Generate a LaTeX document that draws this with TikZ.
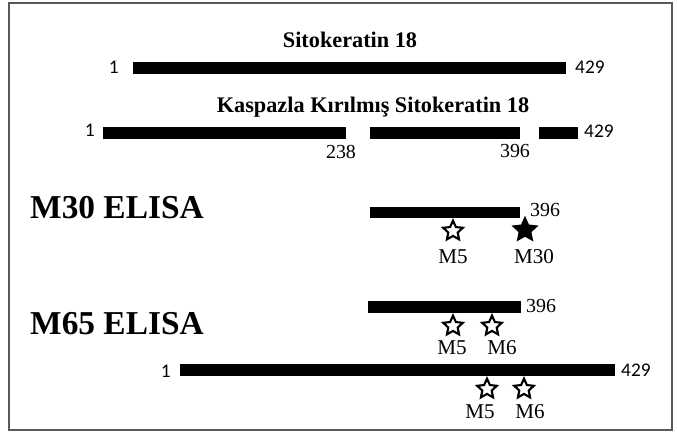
\documentclass[tikz,border=0pt]{standalone}
\usepackage{fontspec}
\setmainfont{Liberation Serif}
\newfontfamily\numfont{Carlito}
\usetikzlibrary{shapes.geometric}

\begin{document}
\begin{tikzpicture}[
    x=0.03cm, y=-0.03cm,
    bar/.style={fill=black},
    title/.style={font=\fontsize{19}{22}\selectfont\bfseries, inner sep=0pt},
    elisa/.style={font=\fontsize{28.5}{32}\selectfont\bfseries, anchor=west, inner sep=0pt},
    endnum/.style={font=\numfont\fontsize{16.5}{18}\selectfont, inner sep=0pt},
    cutnum/.style={font=\fontsize{17}{19}\selectfont, inner sep=0pt},
    mab/.style={font=\fontsize{18}{20}\selectfont, inner sep=0pt},
    openstar/.style={star, star points=5, star point ratio=2.1, draw, line width=1.8pt,
                     minimum size=0.62cm, inner sep=0pt},
    fullstar/.style={openstar, fill=black, minimum size=0.7cm}
]

    % Page and frame
    \useasboundingbox (0,0) rectangle (677,436);
    \draw[line width=1.6pt, black!65] (9,3) rectangle (672,430);

    % Full length cytokeratin
    \node[title] (ck) at (350,40) {Sitokeratin 18};
    \fill[bar] (133,62) rectangle (566,74);
    \node[endnum, anchor=east] (ckA) at (119,67) {1};
    \node[endnum, anchor=west] (ckB) at (575,67) {429};

    % Caspase cleaved cytokeratin (three pieces)
    \node[title] (cck) at (373,107) {Kaspazla Kırılmış Sitokeratin 18};
    \fill[bar] (103,127) rectangle (346,139);
    \fill[bar] (370,127) rectangle (520,139);
    \fill[bar] (539,127) rectangle (578,139);
    \node[endnum, anchor=east] (cckA) at (95,130) {1};
    \node[endnum, anchor=west] (cckB) at (584,131) {429};
    \node[cutnum] (cut1) at (341,152) {238};
    \node[cutnum] (cut2) at (515,151) {396};

    % M30 ELISA
    \node[elisa] (m30) at (30,208) {M30 ELISA};
    \fill[bar] (370,207) rectangle (520,218);
    \node[cutnum, anchor=west] (m30end) at (530,210) {396};
    \node[openstar] (s1) at (453,231) {};
    \node[fullstar] (s2) at (525,230) {};
    \node[mab] (s1lab) at (453,257) {M5};
    \node[mab] (s2lab) at (534,257) {M30};

    % M65 ELISA, cleaved piece
    \node[elisa] (m65) at (30,324) {M65 ELISA};
    \fill[bar] (368,301) rectangle (521,313);
    \node[cutnum, anchor=west] (m65end) at (526,306) {396};
    \node[openstar] (s3) at (453,326) {};
    \node[openstar] (s4) at (492,326) {};
    \node[mab] (s3lab) at (452,348) {M5};
    \node[mab] (s4lab) at (502,348) {M6};

    % M65 ELISA, full length
    \fill[bar] (180,364) rectangle (615,376);
    \node[endnum, anchor=east] (flA) at (171,371) {1};
    \node[endnum, anchor=west] (flB) at (621,370) {429};
    \node[openstar] (s5) at (487,389) {};
    \node[openstar] (s6) at (524,389) {};
    \node[mab] (s5lab) at (480,412) {M5};
    \node[mab] (s6lab) at (530,412) {M6};

\end{tikzpicture}
\end{document}
